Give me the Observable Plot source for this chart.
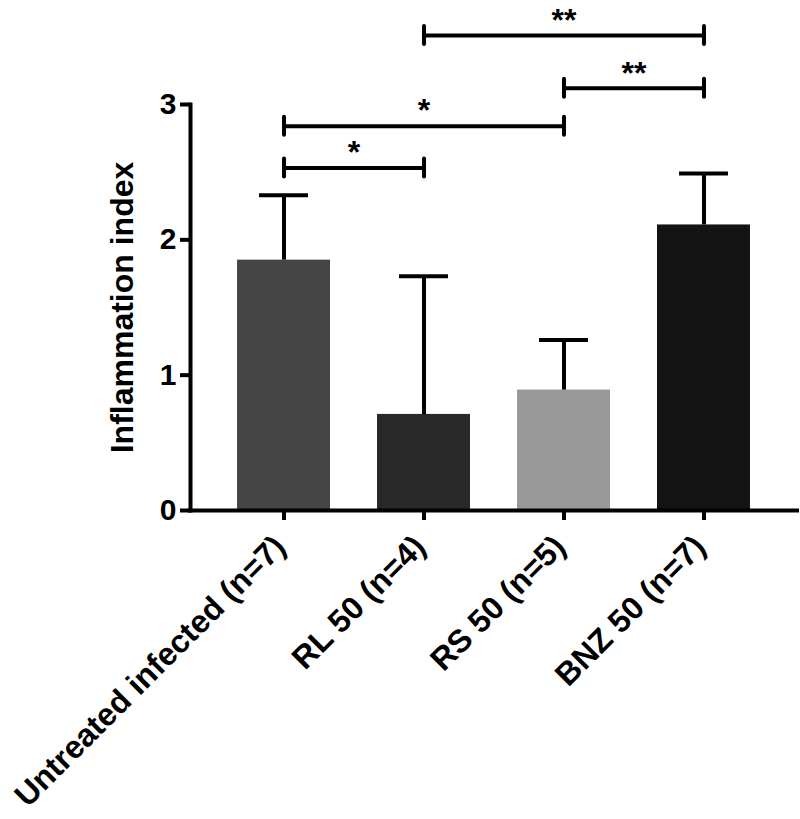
<!DOCTYPE html>
<html><head><meta charset="utf-8">
<script src="https://cdn.jsdelivr.net/npm/d3@7"></script>
<script src="https://cdn.jsdelivr.net/npm/@observablehq/plot@0.6"></script>
<style>
body{margin:0;background:#fff;}
#chart svg{font-family:"Liberation Sans",Arial,sans-serif;font-weight:bold;}
</style>
</head><body><div id="chart"></div>
<script>
// ---- data ----
const groups = ["Untreated infected (n=7)", "RL 50 (n=4)", "RS 50 (n=5)", "BNZ 50 (n=7)"];
const means = [1.85, 0.71, 0.89, 2.11];
const upper = [2.33, 1.73, 1.26, 2.49];
const yTicks = [0, 1, 2, 3];
const sigFrom = ["Untreated infected (n=7)", "Untreated infected (n=7)", "RS 50 (n=5)", "RL 50 (n=4)"];
const sigTo = ["RL 50 (n=4)", "RS 50 (n=5)", "BNZ 50 (n=7)", "BNZ 50 (n=7)"];
const sigLevel = [2.53, 2.84, 3.12, 3.51];
const sigLabel = ["*", "*", "**", "**"];
const yLabel = "Inflammation index";

const data = groups.map((g, i) => ({group: g, mean: means[i], upper: upper[i]}));
const sig = sigFrom.map((f, i) => ({from: f, to: sigTo[i], level: sigLevel[i], label: sigLabel[i]}));

const W = 800, H = 819, ML = 190, MR = 3, MT = 104, MB = 309;
const xOpts = {type: "band", domain: groups, range: [ML, W - MR], padding: 0.336, round: false};
const xs = Plot.scale({x: xOpts});

const plot = Plot.plot({
  width: W, height: H,
  marginLeft: ML, marginRight: MR, marginTop: MT, marginBottom: MB,
  style: {background: "#fff", fontFamily: "Liberation Sans, Arial, sans-serif", fontWeight: "bold", color: "#000"},
  x: {...xOpts, axis: null},
  y: {domain: [0, 3], axis: null},
  color: {domain: groups, range: ["#454545", "#282828", "#989898", "#131313"]},
  marks: [
    Plot.barY(data, {x: "group", y: "mean", fill: "group"}),
    Plot.ruleX(data, {x: "group", y1: "mean", y2: "upper", stroke: "#000", strokeWidth: 4}),
    Plot.tickY(data, {x: "group", y: "upper", stroke: "#000", strokeWidth: 4, insetLeft: 22, insetRight: 22}),
    Plot.frame({anchor: "left", stroke: "#000", strokeWidth: 4}),
    Plot.ruleY([0], {stroke: "#000", strokeWidth: 4, strokeLinecap: "square"}),
    Plot.axisY({ticks: yTicks, tickSize: 10, tickPadding: 4, fontSize: 30, fontWeight: "bold", strokeWidth: 4, label: null, tickFormat: d3.format("d")}),
    Plot.axisX({tickSize: 10, strokeWidth: 4, label: null, tickFormat: () => ""}),
    Plot.text(groups, {x: d => d, frameAnchor: "bottom", rotate: -45, textAnchor: "end", lineAnchor: "middle", dx: -4, dy: 31, fontSize: 32, fontWeight: "bold", fill: "#000"}),
    Plot.text([yLabel], {frameAnchor: "left", rotate: -90, textAnchor: "middle", lineAnchor: "middle", dx: -68, fontSize: 32, fontWeight: "bold", fill: "#000"}),
    // significance brackets
    Plot.link(sig, {x1: "from", x2: "to", y1: "level", y2: "level", stroke: "#000", strokeWidth: 4}),
    Plot.ruleX(sig, {x: "from", y1: "level", y2: "level", insetTop: -9, insetBottom: -9, stroke: "#000", strokeWidth: 4, strokeLinecap: "round"}),
    Plot.ruleX(sig, {x: "to", y1: "level", y2: "level", insetTop: -9, insetBottom: -9, stroke: "#000", strokeWidth: 4, strokeLinecap: "round"}),
    ...sig.map(s => Plot.text([s], {x: "from", y: "level", text: "label", dx: (xs.apply(s.to) - xs.apply(s.from)) / 2, dy: -15, lineAnchor: "middle", fontSize: 32, fontWeight: "bold", fill: "#000"}))
  ]
});
document.getElementById("chart").appendChild(plot);
</script>
</body></html>
